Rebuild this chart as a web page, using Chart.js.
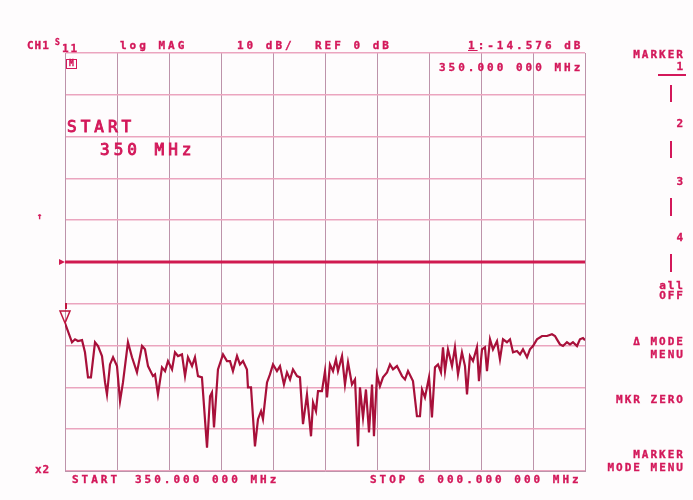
<!DOCTYPE html>
<html>
<head>
<meta charset="utf-8">
<script src="https://cdn.jsdelivr.net/npm/chart.js@4.4.0/dist/chart.umd.min.js"></script>
<style>
  body { margin: 0; background: #fff; }
  #wrap { position: relative; width: 693px; height: 500px; background: #fefcfd; overflow: hidden; }
  #wrap canvas { position: absolute; left: 0; top: 0; }
  .t { position: absolute; font-family: "DejaVu Sans Mono", monospace; font-weight: bold; font-size: 11px; line-height: 11px; letter-spacing: 3px; color: #d3185a; white-space: pre; -webkit-text-stroke: 0.35px #d3185a; }
  .m { letter-spacing: 2px; text-align: right; right: 8px; }
  .big { font-size: 16px; line-height: 16px; letter-spacing: 4px; font-weight: normal; -webkit-text-stroke: 0.9px #d3185a; }
  .bar { position: absolute; width: 2px; background: #d3185a; }
</style>
</head>
<body>
<div id="wrap">
  <canvas id="s11-chart" width="693" height="500"></canvas>

  <div class="t" style="left:27px;top:40px;letter-spacing:1px">CH1</div>
  <div class="t" style="left:55px;top:37px;font-size:8px;letter-spacing:0">S</div>
  <div class="t" style="left:62px;top:43px;letter-spacing:2px">11</div>
  <div class="t" style="left:66px;top:59px;font-size:8px;line-height:8px;letter-spacing:0;border:1px solid #d3185a;padding:0 2px">M</div>
  <div class="t" style="left:120px;top:40px">log MAG</div>
  <div class="t" style="left:237px;top:40px">10 dB/</div>
  <div class="t" style="left:315px;top:40px">REF 0 dB</div>
  <div class="t" style="left:468px;top:40px"><span style="text-decoration:underline">1</span>:-14.576 dB</div>
  <div class="t" style="left:439px;top:62px">350.000 000 MHz</div>

  <div class="t big" style="left:67px;top:119px">START</div>
  <div class="t big" style="left:100px;top:142px">350 MHz</div>
  <div class="t" style="left:37px;top:211px;font-size:9px;letter-spacing:0">↑</div>

  <div class="t m" style="top:49px">MARKER</div>
  <div class="t m" style="top:61px">1</div>
  <div class="bar" style="left:658px;top:74px;width:28px;height:2px"></div>
  <div class="bar" style="left:670px;top:85px;height:17px"></div>
  <div class="t m" style="top:118px">2</div>
  <div class="bar" style="left:670px;top:141px;height:17px"></div>
  <div class="t m" style="top:176px">3</div>
  <div class="bar" style="left:670px;top:198px;height:18px"></div>
  <div class="t m" style="top:232px">4</div>
  <div class="bar" style="left:670px;top:254px;height:18px"></div>
  <div class="t m" style="top:280px">all</div>
  <div class="t m" style="top:290px">OFF</div>
  <div class="t m" style="top:336px">Δ MODE</div>
  <div class="t m" style="top:349px">MENU</div>
  <div class="t m" style="top:394px">MKR ZERO</div>
  <div class="t m" style="top:449px">MARKER</div>
  <div class="t m" style="top:462px">MODE MENU</div>

  <div class="t" style="left:35px;top:464px;letter-spacing:1px">x2</div>
  <div class="t" style="left:72px;top:474px">START</div>
  <div class="t" style="left:135px;top:474px">350.000 000 MHz</div>
  <div class="t" style="left:370px;top:474px">STOP 6 000.000 000 MHz</div>
</div>

<script>
// sweep settings
const startMHz = 350;
const stopMHz = 6000;
const refLevelDb = 0;
const dbPerDiv = 10;
const divisions = 10;

// trace
const freqMHz = [350, 426, 459, 491, 535, 567, 600, 632, 676, 709, 752, 785, 806, 839, 872, 915, 948, 980, 1034, 1078,
  1132, 1187, 1219, 1252, 1306, 1328, 1360, 1404, 1437, 1469, 1513, 1545, 1578, 1621, 1654, 1686, 1730, 1762, 1795, 1838,
  1893, 1926, 1947, 1969, 2012, 2067, 2110, 2143, 2175, 2219, 2251, 2284, 2327, 2338, 2371, 2414, 2447, 2480, 2501, 2545,
  2577, 2610, 2653, 2686, 2729, 2762, 2795, 2827, 2871, 2903, 2936, 2979, 3023, 3045, 3077, 3099, 3142, 3175, 3197, 3229,
  3262, 3294, 3316, 3360, 3392, 3425, 3468, 3501, 3534, 3555, 3588, 3620, 3653, 3686, 3707, 3740, 3772, 3805, 3849, 3881,
  3914, 3957, 4012, 4044, 4077, 4131, 4174, 4207, 4229, 4261, 4305, 4337, 4370, 4403, 4435, 4457, 4479, 4511, 4555, 4587,
  4620, 4663, 4696, 4718, 4750, 4783, 4826, 4848, 4881, 4913, 4935, 4968, 5000, 5044, 5076, 5109, 5152, 5185, 5218, 5261,
  5294, 5326, 5370, 5402, 5435, 5478, 5533, 5587, 5641, 5674, 5695, 5728, 5761, 5804, 5837, 5869, 5913, 5945, 5978, 6000];

const s11dB = [-14.6, -19.2, -18.5, -18.9, -18.7, -21.6, -27.6, -27.6, -19.2, -20.1, -22.5, -28.8, -31.7, -24.5, -22.8, -24.9, -33.3, -28.8, -19.2, -22.8,
  -26.4, -20.1, -20.9, -24.9, -27.3, -26.9, -31.7, -25.2, -26.1, -23.7, -25.7, -21.6, -22.5, -22.1, -27.3, -22.8, -24.9, -22.8, -27.3, -27.6,
  -44.4, -32.1, -31.2, -39.6, -25.7, -22.1, -23.7, -23.7, -26.1, -22.5, -24.5, -23.7, -25.7, -30.0, -30.0, -44.1, -37.6, -35.7, -37.6, -28.8,
  -26.9, -24.5, -26.1, -24.9, -29.3, -26.4, -28.1, -25.7, -27.3, -27.6, -38.8, -31.7, -41.7, -33.6, -35.7, -30.9, -30.9, -26.1, -32.4, -24.5,
  -26.1, -23.3, -26.1, -22.5, -29.3, -24.0, -29.3, -28.1, -44.1, -30.0, -37.2, -30.5, -40.8, -29.3, -41.7, -26.9, -29.7, -27.6, -26.4, -24.5,
  -25.7, -24.9, -27.3, -28.1, -26.1, -28.5, -36.9, -36.9, -30.5, -32.4, -27.6, -37.2, -25.2, -24.5, -26.4, -20.4, -26.1, -20.9, -24.9, -20.4,
  -26.9, -21.6, -24.9, -31.7, -22.5, -23.7, -20.4, -28.5, -20.9, -20.4, -26.1, -18.5, -20.9, -18.9, -23.3, -18.5, -19.2, -18.5, -21.6, -21.3,
  -22.1, -20.9, -22.8, -20.9, -20.1, -18.5, -17.7, -17.7, -17.3, -17.7, -18.5, -19.7, -20.1, -19.2, -19.7, -19.2, -20.1, -18.5, -18.2, -18.7];

const trace = freqMHz.map((f, i) => ({ x: f, y: s11dB[i] }));
const refLine = [{ x: startMHz, y: refLevelDb }, { x: stopMHz, y: refLevelDb }];

// ref arrow on the left and marker 1 triangle
const vnaMarks = {
  id: 'vnaMarks',
  afterDatasetsDraw(chart) {
    const c = chart.ctx;
    const xs = chart.scales.x, ys = chart.scales.y;
    c.save();
    c.fillStyle = '#d01a50';
    const ry = ys.getPixelForValue(refLevelDb);
    const lx = xs.getPixelForValue(startMHz);
    c.beginPath();
    c.moveTo(lx - 6, ry - 3);
    c.lineTo(lx, ry);
    c.lineTo(lx - 6, ry + 3);
    c.closePath();
    c.fill();

    const mx = xs.getPixelForValue(freqMHz[0]);
    const my = ys.getPixelForValue(s11dB[0]);
    c.strokeStyle = '#c0153f';
    c.lineWidth = 1.5;
    c.beginPath();
    c.moveTo(mx, my);
    c.lineTo(mx - 5, my - 12);
    c.lineTo(mx + 5, my - 12);
    c.closePath();
    c.stroke();
    c.lineWidth = 2;
    c.beginPath();
    c.moveTo(mx + 1, my - 14);
    c.lineTo(mx + 1, my - 20);
    c.stroke();
    c.restore();
  }
};

const ctx = document.getElementById("s11-chart").getContext("2d");
new Chart(ctx, {
  type: "line",
  data: {
    datasets: [{
        label: "S11",
        data: trace,
        borderColor: "#a8103a",
        borderWidth: 2.2,
        pointRadius: 0,
        tension: 0,
        fill: false
      },
      {
        label: "REF",
        data: refLine,
        borderColor: "#d01a50",
        borderWidth: 3,
        pointRadius: 0,
        fill: false
      }
    ]
  },
  options: {
    responsive: false,
    animation: false,
    maintainAspectRatio: false,
    layout: {
      padding: { left: 65, right: 108, top: 53, bottom: 29 }
    },
    plugins: {
      legend: { display: false },
      tooltip: { enabled: false }
    },
    scales: {
      x: {
        type: 'linear',
        min: startMHz,
        max: stopMHz,
        ticks: {
          display: false,
          stepSize: (stopMHz - startMHz) / divisions
        },
        grid: {
          color: '#bd93aa',
          lineWidth: 1,
          drawTicks: false
        },
        border: { display: true, color: '#bd93aa' }
      },
      y: {
        min: refLevelDb - dbPerDiv * divisions / 2,
        max: refLevelDb + dbPerDiv * divisions / 2,
        ticks: {
          display: false,
          stepSize: dbPerDiv
        },
        grid: {
          color: '#eba5bf',
          lineWidth: 1.5,
          drawTicks: false
        },
        border: { display: true, color: '#bd93aa' }
      }
    }
  },
  plugins: [vnaMarks]
});
</script>
</body>
</html>
